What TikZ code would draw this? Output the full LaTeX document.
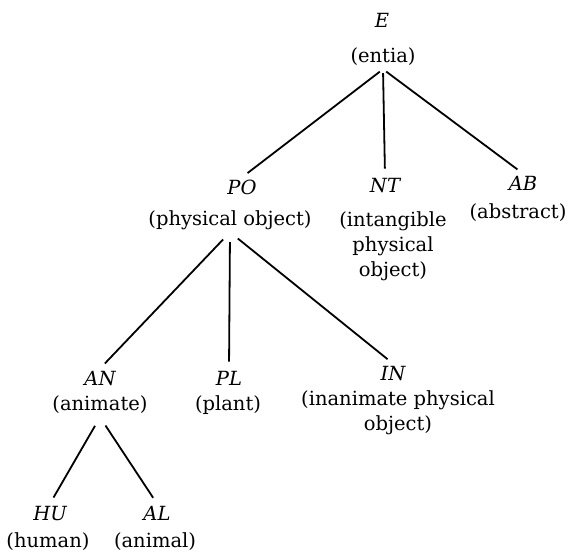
\documentclass[tikz,border=0pt]{standalone}
\usepackage{fontspec}
\setmainfont{DejaVu Serif}
\usepackage{tikz}

\begin{document}
\begin{tikzpicture}[
 x=1pt,y=-1pt,
 every node/.style={font=\fontsize{19.5}{25}\selectfont,inner sep=2pt,anchor=base},
 cat/.style={font=\fontsize{19.5}{25}\selectfont\itshape},
 gloss/.style={align=center,text depth=5pt},
 branch/.style={line width=1.8pt,shorten <=10pt,shorten >=7pt}
]
\useasboundingbox (0,0) rectangle (569,558);
% root
\node[cat] (E) at (382,27) {E};
\node[gloss] (entia) at (383,62) {(entia)};
% first level
\node[cat] (PO) at (242,194) {PO};
\node[gloss] (physobj) at (230,225) {(physical object)};
\node[cat] (NT) at (385,192) {NT};
\node[gloss] (intang) at (393,276) {(intangible\\physical\\object)};
\node[cat] (AB) at (523,190) {AB};
\node[gloss] (abstr) at (518,218) {(abstract)};
% second level
\node[cat] (AN) at (100,385) {AN};
\node[gloss] (anim) at (100,410) {(animate)};
\node[cat] (PL) at (229,385) {PL};
\node[gloss] (plant) at (228,410) {(plant)};
\node[cat] (IN) at (393,380) {IN};
\node[gloss] (inanim) at (398,430) {(inanimate physical\\object)};
% third level
\node[cat] (HU) at (50,520) {HU};
\node[gloss] (human) at (48,547) {(human)};
\node[cat] (AL) at (157,520) {AL};
\node[gloss] (animal) at (155,547) {(animal)};

\draw[branch,shorten <=4pt] (entia.south)--(PO.north);
\draw[branch,shorten <=4pt] (entia.south)--(NT.north);
\draw[branch,shorten <=4pt] (entia.south)--(AB.north);
\draw[branch] (physobj.south)--(AN.north);
\draw[branch] (physobj.south)--(PL.north);
\draw[branch] (physobj.south)--(IN.north);
\draw[branch] (anim.south)--(HU.north);
\draw[branch] (anim.south)--(AL.north);
\end{tikzpicture}
\end{document}
